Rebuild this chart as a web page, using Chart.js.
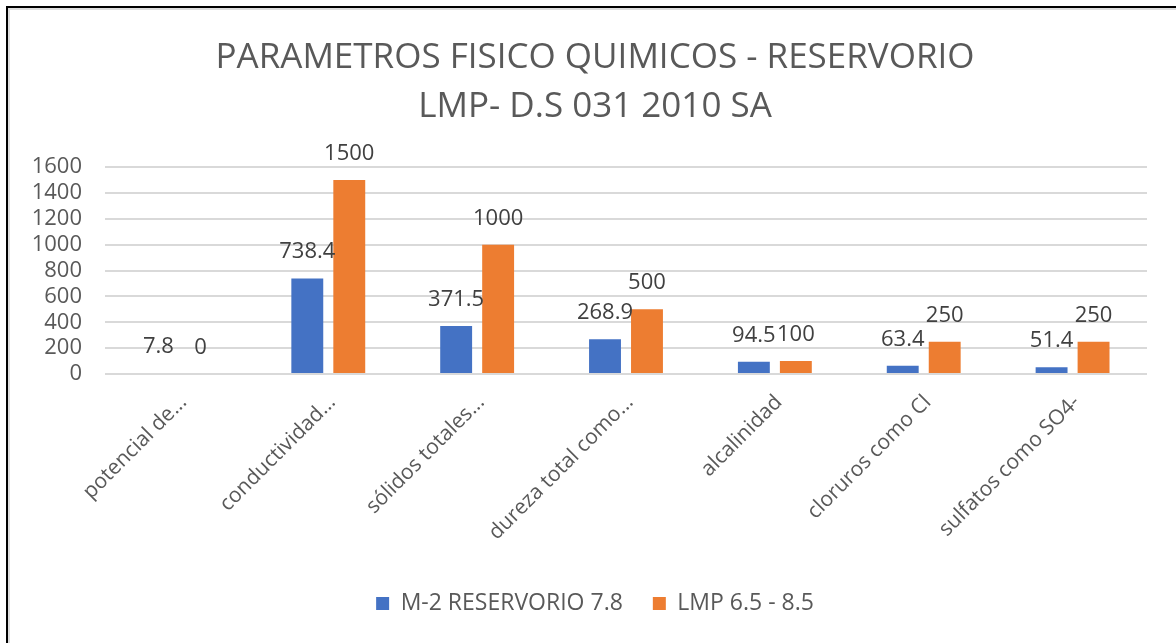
<!DOCTYPE html>
<html>
<head>
<meta charset="utf-8">
<script src="https://cdn.jsdelivr.net/npm/chart.js@4.4.1/dist/chart.umd.min.js"></script>
<style>
html,body{margin:0;padding:0;background:#fff;}
#wrap{position:relative;width:1176px;height:643px;overflow:hidden;background:#fff;}
#chart{position:absolute;left:0;top:0;}
#frame{position:absolute;left:6px;top:6px;width:1300px;height:800px;border-top:2px solid #000;border-left:2px solid #000;pointer-events:none;}
#frame2{position:absolute;left:8px;top:8px;width:1300px;height:800px;border-top:2px solid #dedede;border-left:2px solid #dedede;pointer-events:none;}
</style>
</head>
<body>
<div id="wrap">
  <canvas id="chart" width="1176" height="643"></canvas>
  <div id="frame2"></div>
  <div id="frame"></div>
</div>
<script>
const titleLines = ["PARAMETROS FISICO QUIMICOS - RESERVORIO", "LMP- D.S 031 2010 SA"];
const categories = ["potencial de...", "conductividad...", "sólidos totales...", "dureza total como...", "alcalinidad", "cloruros como Cl", "sulfatos como SO4-"];
const seriesNames = ["M-2 RESERVORIO 7.8", "LMP 6.5 - 8.5"];
const m2Values = [7.8, 738.4, 371.5, 268.9, 94.5, 63.4, 51.4];
const lmpValues = [0, 1500, 1000, 500, 100, 250, 250];
const yMin = 0, yMax = 1600, yStep = 200;

const FONT = '"Open Sans", "Noto Sans", sans-serif';

const valueLabels = {
  id: 'valueLabels',
  afterDatasetsDraw(chart) {
    const ctx = chart.ctx;
    ctx.save();
    ctx.font = '22px ' + FONT;
    ctx.fillStyle = '#404040';
    ctx.textAlign = 'center';
    ctx.textBaseline = 'alphabetic';
    chart.data.datasets.forEach((ds, i) => {
      chart.getDatasetMeta(i).data.forEach((el, j) => {
        ctx.fillText(String(ds.data[j]), el.x, el.y - 20);
      });
    });
    ctx.restore();
  }
};

// let the y tick labels use the space left of the axis box (avoid clipping)
const widenYLabelArea = {
  id: 'widenYLabelArea',
  afterLayout(chart) { chart.scales.y.left = 0; }
};

new Chart(document.getElementById('chart'), {
  type: 'bar',
  data: {
    labels: categories,
    datasets: [
      { label: seriesNames[0], data: m2Values, backgroundColor: '#4472C4', borderWidth: 0 },
      { label: seriesNames[1], data: lmpValues, backgroundColor: '#ED7D31', borderWidth: 0 }
    ]
  },
  options: {
    responsive: false,
    animation: false,
    devicePixelRatio: 1,
    categoryPercentage: 0.564,
    barPercentage: 0.76,
    layout: { padding: { left: 43, right: 29, top: 0, bottom: 18 } },
    plugins: {
      title: {
        display: true,
        text: titleLines,
        color: '#595959',
        font: { family: FONT, size: 35, weight: 'normal', lineHeight: 1.4 },
        padding: { top: 34, bottom: 35 }
      },
      legend: {
        position: 'bottom',
        labels: {
          color: '#595959',
          font: { family: FONT, size: 23 },
          boxWidth: 13,
          boxHeight: 13,
          padding: 30
        }
      },
      tooltip: { enabled: false }
    },
    scales: {
      x: {
        grid: { display: false },
        border: { display: false },
        ticks: {
          color: '#595959',
          font: { family: FONT, size: 21 },
          maxRotation: 45,
          minRotation: 45,
          padding: 8,
          labelOffset: 4,
          autoSkip: false
        },
        afterFit(scale) { scale.height = 188; }
      },
      y: {
        min: yMin,
        max: yMax,
        grid: { color: '#d9d9d9', lineWidth: 2, drawTicks: false },
        border: { display: false },
        ticks: {
          stepSize: yStep,
          autoSkip: false,
          color: '#595959',
          font: { family: FONT, size: 22 },
          padding: 23,
          callback: (value) => String(value)
        },
        afterFit(scale) { scale.width = 62; }
      }
    }
  },
  plugins: [valueLabels, widenYLabelArea]
});
</script>
</body>
</html>
